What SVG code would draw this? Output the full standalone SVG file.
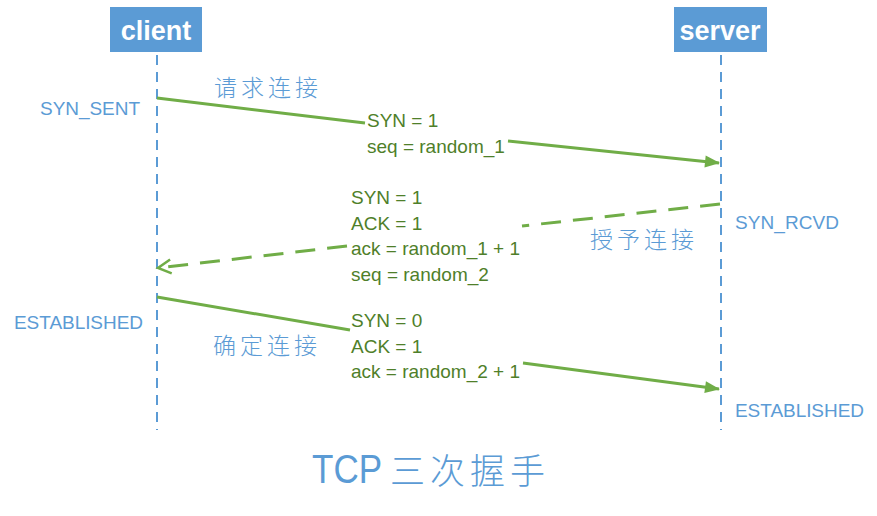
<svg xmlns="http://www.w3.org/2000/svg" width="877" height="516" viewBox="0 0 877 516">
<style>
.box{fill:#5B9BD5}
.hdr{fill:#fff;font-family:"Liberation Sans",Arial,sans-serif;font-weight:bold;font-size:27px;text-anchor:middle}
.life{stroke:#5B9BD5;stroke-width:2;stroke-dasharray:10 7;fill:none}
.state{fill:#5B9BD5;font-family:"Liberation Sans",Arial,sans-serif;font-size:19px}
.msg{fill:#4F7F2A;font-family:"Liberation Sans",Arial,sans-serif;font-size:19px}
.hand{fill:#5B9BD5;font-family:"Noto Sans CJK SC",sans-serif;font-weight:300;font-size:23px;letter-spacing:4px}
.arr{stroke:#70AD47;stroke-width:3;fill:none}
.dash{stroke-dasharray:20 12}
</style>
<defs>
<marker id="solid" viewBox="0 0 10 10" refX="9" refY="5" markerWidth="10" markerHeight="10" markerUnits="userSpaceOnUse" orient="auto" style="overflow:visible">
<path d="M-5,-1 L10,5 L-5,11 z" fill="#70AD47"/>
</marker>
<marker id="open" viewBox="0 0 10 10" refX="9" refY="5" markerWidth="10" markerHeight="10" markerUnits="userSpaceOnUse" orient="auto" style="overflow:visible">
<path d="M-4,-2 L9,5 L-4,12" fill="none" stroke="#70AD47" stroke-width="2.5"/>
</marker>
</defs>
<g id="client">
<rect class="box" x="110" y="7" width="92" height="45"/>
<text class="hdr" x="156" y="40">client</text>
<line class="life" x1="157" y1="55" x2="157" y2="430"/>
</g>
<g id="server">
<rect class="box" x="674" y="7" width="93" height="45"/>
<text class="hdr" x="720" y="40">server</text>
<line class="life" x1="721" y1="55" x2="721" y2="430"/>
</g>
<g id="states">
<text class="state" x="40" y="115" textLength="100">SYN_SENT</text>
<text class="state" x="735" y="229" textLength="104">SYN_RCVD</text>
<text class="state" x="14" y="329" textLength="129">ESTABLISHED</text>
<text class="state" x="735" y="417" textLength="129">ESTABLISHED</text>
</g>
<g id="connectors">
<path class="arr" d="M157,98 L365,123"/>
<path class="arr" d="M508,141 L719,163" marker-end="url(#solid)"/>
<path class="arr dash" d="M720,204 L522,226"/>
<path class="arr dash" d="M347,246 L158,268" marker-end="url(#open)"/>
<path class="arr" d="M157,297 L350,330"/>
<path class="arr" d="M523,363 L719,389" marker-end="url(#solid)"/>
</g>
<g id="labels">
<text class="hand" x="214" y="96">请求连接</text>
<text class="hand" x="590" y="248">授予连接</text>
<text class="hand" x="213" y="354">确定连接</text>
<text class="msg" x="367" y="127">SYN = 1</text>
<text class="msg" x="367" y="153">seq = random_1</text>
<text class="msg" x="351" y="204">SYN = 1</text>
<text class="msg" x="351" y="230">ACK = 1</text>
<text class="msg" x="351" y="255">ack = random_1 + 1</text>
<text class="msg" x="351" y="281">seq = random_2</text>
<text class="msg" x="351" y="327">SYN = 0</text>
<text class="msg" x="351" y="353">ACK = 1</text>
<text class="msg" x="351" y="378">ack = random_2 + 1</text>
</g>
<g id="title">
<text x="312" y="483" fill="#5B9BD5" font-family="'Liberation Sans',Arial,sans-serif" font-size="41" textLength="70" lengthAdjust="spacingAndGlyphs">TCP</text>
<text x="390" y="484" fill="#5B9BD5" font-family="'Noto Sans CJK SC',sans-serif" font-weight="300" font-size="35" letter-spacing="5">三次握手</text>
</g>
</svg>
